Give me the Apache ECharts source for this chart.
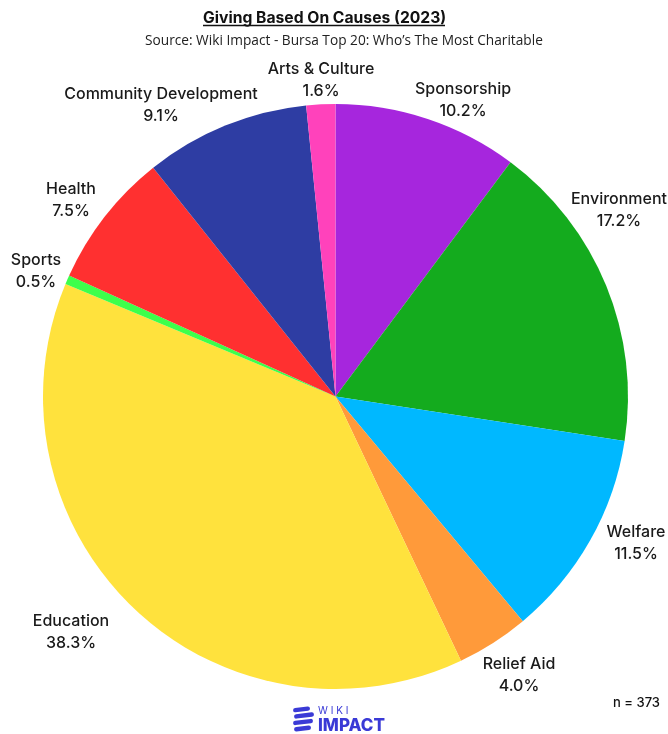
<!DOCTYPE html>
<html>
<head>
<meta charset="utf-8">
<style>html,body{margin:0;padding:0;background:#fff}#chart{width:668px;height:734px}</style>
<script src="https://cdn.jsdelivr.net/npm/echarts@6/dist/echarts.min.js"></script>
</head>
<body>
<div id="chart"></div>
<script>
// Share of giving per cause, clockwise from twelve o'clock
const causes = ['Sponsorship','Environment','Welfare','Relief Aid','Education','Sports','Health','Community Development','Arts & Culture'];
const shares = [10.2,17.2,11.5,4.0,38.3,0.5,7.5,9.1,1.6];
const colours = ['#a626dd','#14ab1e','#00b8ff','#ff9a3a','#ffe23d','#3dff4b','#ff3030','#2e3da3','#ff42bb'];
// Label anchor points, placed by hand around the rim
const labelX = [463,619,636,519,71,36,71,161,321];
const labelY = [100,210,543,675,632,271,200,105,80];

const titleText = 'Giving Based On Causes (2023)';
const subtitleText = 'Source: Wiki Impact - Bursa Top 20: Who’s The Most Charitable';
const sampleNote = 'n = 373';
const FONT = 'Inter, "Open Sans", sans-serif';

const chart = echarts.init(document.getElementById('chart'), null, {renderer:'canvas'});

// Four slanted strokes stacked into the organisation's mark
const markStrokes = [0,1,2,3].map(i => ({
  type:'rect',
  shape:{x:293 + (i%2), y:707 + i*6.4, width:20 - (i===0||i===3?3:0), height:4.4, r:2.2},
  style:{fill:'#3a3ad6'},
  rotation:0.12,
  originX:303, originY:709 + i*6.4
}));

chart.setOption({
  animation:false,
  backgroundColor:'#fff',
  title:[
    {text:titleText,left:203,top:10,padding:0,
      textStyle:{fontFamily:FONT,fontSize:15.7,fontWeight:700,color:'#111'}},
    {text:subtitleText,left:145,top:34,padding:0,
      textStyle:{fontFamily:'"Open Sans", sans-serif',fontSize:13.7,fontWeight:400,color:'#222'}}
  ],
  series:[{
    type:'pie',
    center:[335.5,396.5],
    radius:[0,292.5],
    startAngle:90,
    clockwise:true,
    silent:true,
    data:causes.map((name,i)=>({name,value:shares[i],itemStyle:{color:colours[i]}})),
    label:{
      show:true,
      overflow:'none',
      formatter:p=>p.name+'\n'+p.value.toFixed(1)+'%',
      fontFamily:FONT,fontSize:16,lineHeight:21.5,color:'#1a1a1a',fontWeight:500,align:'center'
    },
    labelLine:{show:false},
    labelLayout:p=>({x:labelX[p.dataIndex],y:labelY[p.dataIndex],align:'center',verticalAlign:'middle'})
  }],
  graphic:[
    {type:'line',shape:{x1:203,y1:25.5,x2:445,y2:25.5},style:{stroke:'#111',lineWidth:1.3}},
    {type:'text',x:660,y:703,style:{text:sampleNote,align:'right',verticalAlign:'middle',fontFamily:FONT,fontSize:13,fontWeight:500,fill:'#111'}},
    {type:'text',x:318,y:711,style:{text:'W I K I',align:'left',verticalAlign:'middle',fontFamily:FONT,fontSize:10,fill:'#3a3ad6'}},
    {type:'text',x:318,y:726,style:{text:'IMPACT',align:'left',verticalAlign:'middle',fontFamily:FONT,fontSize:17,fontWeight:800,fill:'#3a3ad6'}},
    ...markStrokes
  ]
});
</script>
</body>
</html>
